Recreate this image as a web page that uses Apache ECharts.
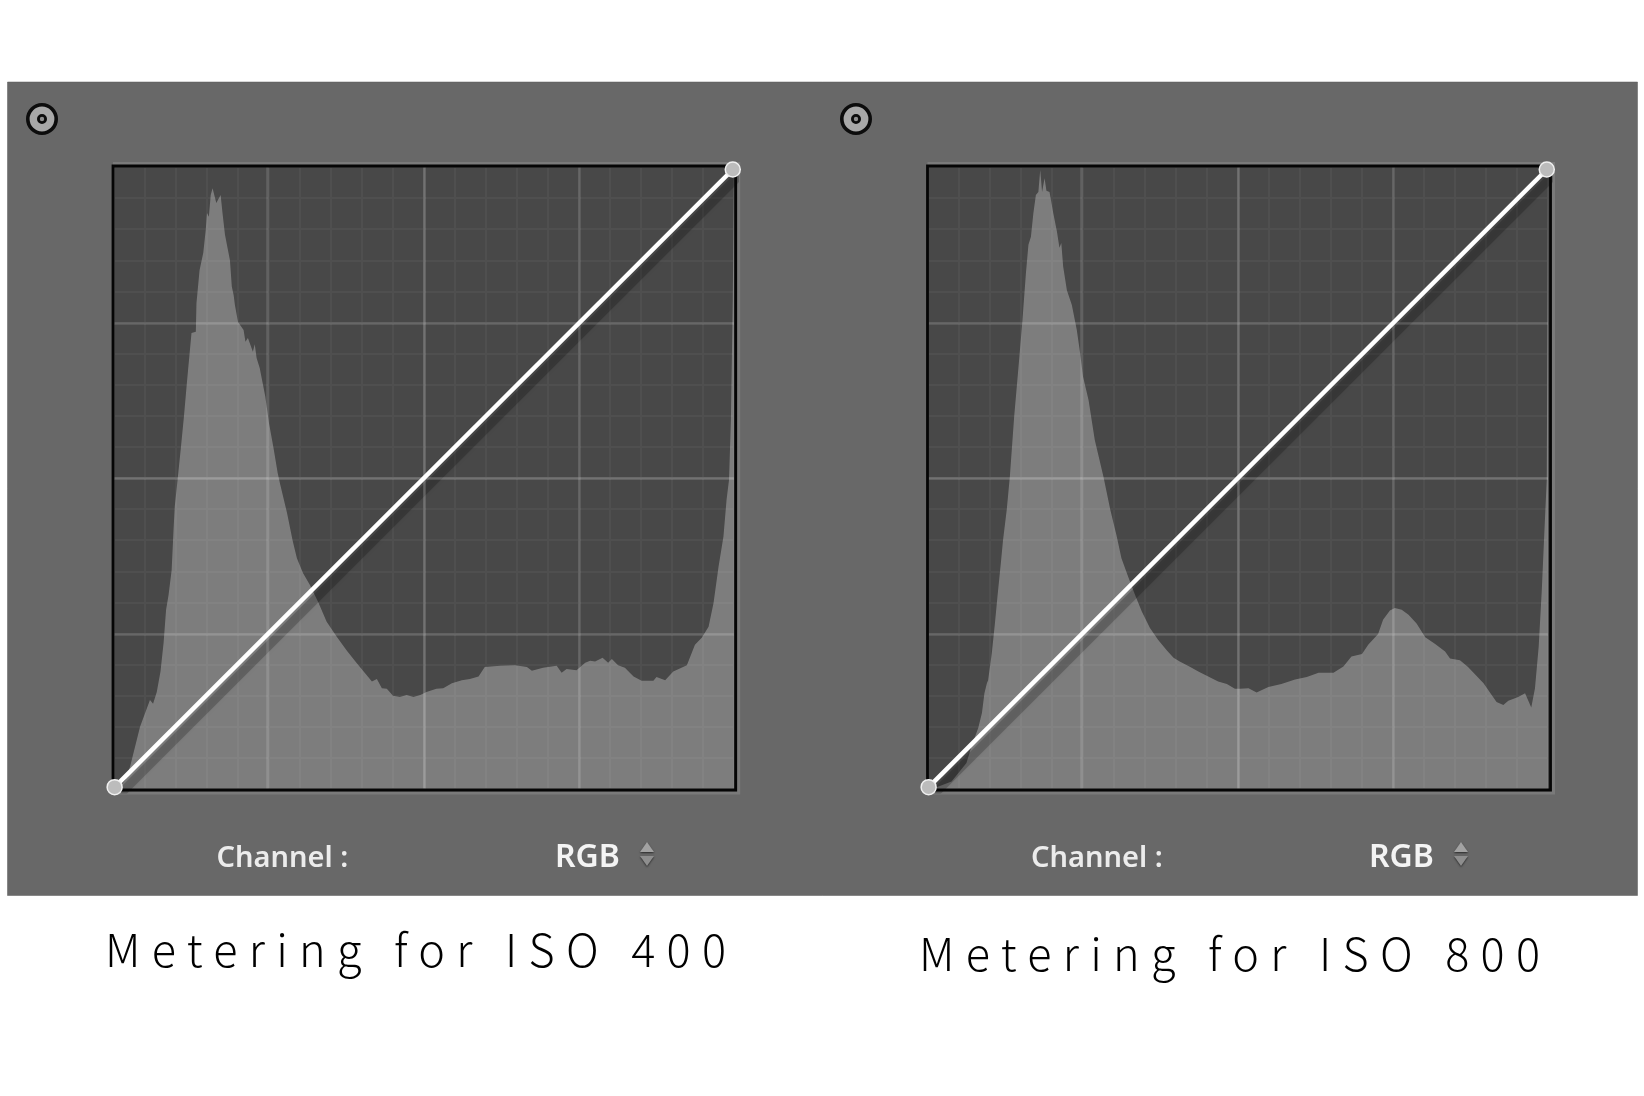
<!DOCTYPE html>
<html><head><meta charset="utf-8">
<style>html,body{margin:0;padding:0;background:#fff}#c{width:1644px;height:1096px}</style>
<script src="https://cdn.jsdelivr.net/npm/echarts@6/dist/echarts.min.js"></script>
</head><body><div id="c"></div>
<script>
const iso400Levels=[0.6,1.8,2.6,4.2,5.8,6.3,6.9,7.5,8.0,8.4,8.8,9.0,9.3,9.6,9.8,10.2,10.8,11.3,11.8,12.5,13.2,13.3,13.8,14.4,14.8,15.0,15.3,15.6,15.9,16.2,16.5,16.8,17.2,17.5,17.9,18.7,19.0,19.3,19.5,19.7,20.0,20.9,21.2,21.6,22.4,22.7,23.0,23.5,24.4,25.0,25.7,26.4,26.8,27.9,28.8,29.5,30.5,31.6,33.0,34.3,35.9,37.5,39.1,40.5,41.6,42.4,43.2,44.0,45.0,46.1,47.2,48.3,49.4,50.4,52.0,53.1,54.5,56.1,57.4,58.8,59.8,62.3,64.7,66.6,67.4,69.2,71.4,72.2,73.0,74.6,76.0,76.8,77.6,78.8,79.7,80.3,81.3,82.4,83.8,85.1,87.0,87.5,88.9,90.2,92.4,93.7,94.8,95.9,96.7,97.5,98.3,98.8,99.2,99.5,99.8,100];
const iso400Counts=[0,1.4,3.6,10.0,14.3,13.7,15.6,18.9,23.5,28.8,31.2,31.5,35.2,41.6,45.4,49.2,55.0,60.1,65.8,73.3,73.5,78.1,83.4,86.2,89.9,92.6,92.0,95.5,96.6,96.5,94.2,94.3,95.5,92.6,89.1,85.0,80.8,79.4,77.8,78.1,75.1,73.8,71.9,72.5,70.3,71.5,69.3,67.7,63.1,58.8,55.0,50.8,49.0,44.4,40.0,37.1,34.7,32.8,29.9,26.9,24.5,22.3,20.3,18.6,17.3,17.7,16.2,16.1,15.0,14.8,15.1,14.8,15.1,15.6,16.1,16.2,17.0,17.5,17.7,18.1,19.6,19.8,19.9,19.6,19.0,19.5,19.8,18.7,19.3,19.1,20.3,20.6,20.5,21.1,20.3,20.9,19.9,19.5,18.1,17.4,17.4,18.0,17.5,18.9,19.9,23.2,24.3,26.1,29.9,35.7,40.6,46.5,49.7,59.3,78.6,99.5];
const iso800Levels=[0.6,1.9,3.8,6.2,7.0,8.1,8.7,9.1,9.5,9.7,10.3,10.8,11.2,11.8,12.1,12.7,13.2,13.9,14.6,15.2,15.8,16.2,16.6,17.0,17.4,17.8,18.1,18.4,18.8,19.1,19.6,20.2,20.8,21.2,21.5,21.8,22.4,22.7,23.2,23.5,24.0,24.5,25.0,25.9,26.9,28.3,29.4,30.4,31.2,32.3,33.4,34.5,35.8,37.1,38.5,39.6,40.6,42.3,43.6,45.2,46.8,48.2,49.5,50.3,51.7,53.0,54.9,57.0,59.2,61.1,63.0,65.4,67.0,68.3,70.0,71.0,72.6,73.4,74.5,75.3,76.4,77.5,78.8,80.2,81.8,83.4,84.2,85.8,87.1,89.6,91.7,92.8,93.6,95.2,96.3,97.3,97.9,98.5,99.0,99.5,99.8,100];
const iso800Counts=[0,0.5,1.2,4.2,6.8,9.8,12.2,15.4,17.0,17.5,21.9,26.7,30.9,36.8,40.0,44.9,50.2,59.9,67.9,74.9,83.0,87.5,88.8,92.6,95.5,96.0,99.5,96.0,98.2,96.2,96.0,92.6,89.6,87.0,87.8,84.0,80.2,80.2,77.8,77.5,73.8,70.3,66.3,62.5,56.1,50.2,44.9,40.8,37.1,34.1,31.2,28.5,25.9,24.0,22.3,21.1,20.5,19.6,18.9,18.1,17.3,16.9,16.1,16.1,16.2,15.5,16.4,16.9,17.6,18.0,18.7,18.7,19.7,21.3,21.7,23.2,24.9,27.2,28.7,29.1,28.8,28.0,26.6,24.4,23.3,22.1,21.0,20.7,19.6,17.0,14.0,13.5,14.2,14.8,15.4,13.1,16.2,22.9,32.0,43.2,49.7,99.5];
const curveInput=[0.1,99.8];
const curveOutput=[0.3,99.6];
const majorVertical=[24.7,50,75];
const majorHorizontal=[24.8,50,74.8];
const captions=['Metering for ISO 400','Metering for ISO 800'];
const channelLabel='Channel :';
const modeLabel='RGB';

const pts=(a,b)=>a.map((v,i)=>[v,b[i]]);
const curve=pts(curveInput,curveOutput);
const curveShadow=pts(curveInput.map(v=>v+1),curveOutput.map(v=>v-1));

// wide tracking for the captions, as in the reference
const origFill=CanvasRenderingContext2D.prototype.fillText;
CanvasRenderingContext2D.prototype.fillText=function(t,x,y,m){
  if(captions.includes(t)&&'letterSpacing' in this){
    const prev=this.letterSpacing;this.letterSpacing='11.3px';
    origFill.call(this,t,x,y);this.letterSpacing=prev;return;
  }
  return m===undefined?origFill.call(this,t,x,y):origFill.call(this,t,x,y,m);
};

const panels=[
 {gx:114,fx:113,fw:622.7,icon:42,chX:216.5,rgbX:555,arX:647,capX:105,capY:927,lv:iso400Levels,ct:iso400Counts,cap:captions[0]},
 {gx:928,fx:927.5,fw:623,icon:856,chX:1031,rgbX:1369,arX:1461,capX:919,capY:931,lv:iso800Levels,ct:iso800Counts,cap:captions[1]}
];
const gridLine={show:true,lineStyle:{color:'#4f4f4f',width:2}};
const baseAxis={type:'value',min:0,max:100,interval:5,axisLabel:{show:false},axisTick:{show:false},axisLine:{show:false},splitLine:gridLine};
const mk=(axis,vals)=>vals.map(v=>({[axis]:v,lineStyle:{color:v===50?'rgba(255,255,255,0.2)':'rgba(255,255,255,0.14)',width:2.5,type:'solid'}}));

const series=[];
panels.forEach((p,i)=>{
  series.push({type:'line',xAxisIndex:i,yAxisIndex:i,data:pts(p.lv,p.ct),symbol:'none',silent:true,z:2,
    lineStyle:{width:0},areaStyle:{color:'rgba(255,255,255,0.295)',opacity:1,origin:'start'},
    markLine:{silent:true,symbol:'none',label:{show:false},animation:false,data:[...mk('xAxis',majorVertical),...mk('yAxis',majorHorizontal)]}});
  series.push({type:'line',xAxisIndex:i,yAxisIndex:i,data:curveShadow,symbol:'none',silent:true,z:3,
    lineStyle:{color:'rgba(0,0,0,0.2)',width:9,shadowColor:'rgba(0,0,0,0.25)',shadowBlur:4}});
  series.push({type:'line',xAxisIndex:i,yAxisIndex:i,data:curve,silent:true,z:4,clip:false,symbol:'none',
    lineStyle:{color:'#ffffff',width:4.5}});
  series.push({type:'scatter',xAxisIndex:i,yAxisIndex:i,data:curve,silent:true,z:25,zlevel:1,clip:false,symbol:'circle',symbolSize:15,
    itemStyle:{color:'#bcbcbc',opacity:1,borderColor:'#f0f0f0',borderWidth:1.5}});
});

const textShadow={shadowColor:'rgba(0,0,0,0.85)',shadowBlur:3,shadowOffsetX:1.5,shadowOffsetY:2.5};
const graphic=[{type:'rect',z:-10,shape:{x:7.5,y:82,width:1630,height:813.5},style:{fill:'#686868',stroke:'#5a5a5a',lineWidth:0.5}}];
panels.forEach(p=>{
  graphic.push(
   {type:'polyline',z:-5,shape:{points:[[p.fx,163.5],[p.fx+p.fw+3,163.5],[p.fx+p.fw+3,793],[p.fx,793]]},style:{stroke:'#7a7a7a',fill:null,lineWidth:3}},
   {type:'rect',z:20,shape:{x:p.fx,y:166,width:p.fw,height:624},style:{fill:null,stroke:'#050505',lineWidth:2.8}},
   {type:'circle',z:5,shape:{cx:p.icon,cy:119,r:14.2},style:{fill:'#a8a8a8',stroke:'#0c0c0c',lineWidth:3.6}},
   {type:'circle',z:6,shape:{cx:p.icon,cy:119,r:3.6},style:{fill:'#8e8e8e',stroke:'#0c0c0c',lineWidth:2.8}},
   {type:'text',z:10,style:{text:channelLabel,x:p.chX,y:859,verticalAlign:'middle',font:'600 29px "Noto Sans"',fill:'#ececec',...textShadow}},
   {type:'text',z:10,style:{text:modeLabel,x:p.rgbX,y:858,verticalAlign:'middle',font:'600 32px "Noto Sans"',fill:'#f4f4f4',...textShadow}},
   {type:'polygon',z:10,shape:{points:[[p.arX-7,852],[p.arX+7,852],[p.arX,842]]},style:{fill:'#a2a2a2',shadowColor:'rgba(0,0,0,.6)',shadowBlur:2,shadowOffsetY:1}},
   {type:'polygon',z:10,shape:{points:[[p.arX-7,856],[p.arX+7,856],[p.arX,866]]},style:{fill:'#8e8e8e',shadowColor:'rgba(0,0,0,.6)',shadowBlur:2,shadowOffsetY:1}}
  );
});
panels.forEach(p=>{
  graphic.push({type:'text',z:30,style:{text:p.cap,x:p.capX,y:p.capY,font:'300 45px "Noto Sans CJK JP","Noto Sans"',fill:'#000'}});
});

const chart=echarts.init(document.getElementById('c'),null,{renderer:'canvas',width:1644,height:1096});
chart.setOption({
  animation:false,backgroundColor:'#ffffff',
  grid:panels.map(p=>({left:p.gx,width:620,top:167,height:622,show:true,backgroundColor:'#484848',borderWidth:0,containLabel:false})),
  xAxis:panels.map((p,i)=>({...baseAxis,gridIndex:i})),
  yAxis:panels.map((p,i)=>({...baseAxis,gridIndex:i})),
  series,graphic
});
</script></body></html>
